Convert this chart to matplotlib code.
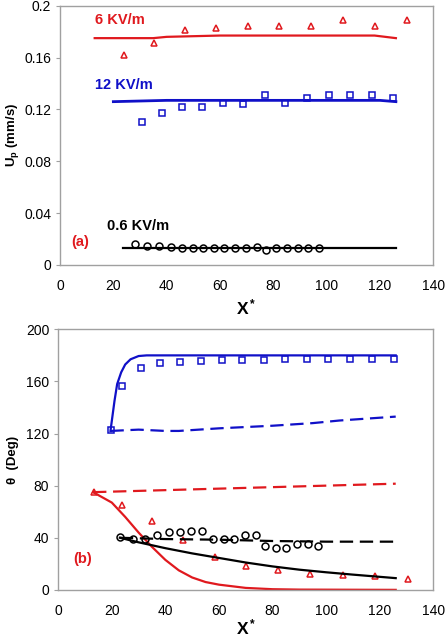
import matplotlib.pyplot as plt

plt.rcParams['font.family'] = ['Liberation Sans', 'DejaVu Sans']
plt.rcParams['mathtext.fontset'] = 'custom'
plt.rcParams['mathtext.rm'] = 'Liberation Sans'
plt.rcParams['mathtext.bf'] = 'Liberation Sans:bold'
plt.rcParams['mathtext.it'] = 'Liberation Sans:italic'

# ---- panel (a): particle velocity ----
a_red_x = [24.0, 35.1, 46.8, 58.5, 70.4, 82.3, 94.0, 106.2, 118.1, 130.1]
a_red_y = [0.162, 0.171, 0.181, 0.183, 0.184, 0.184, 0.184, 0.189, 0.184, 0.189]
a_red_line_x = [13, 20, 35, 40, 60, 80, 100, 118, 122, 126]
a_red_line_y = [0.175, 0.175, 0.175, 0.176, 0.177, 0.177, 0.177, 0.177, 0.176, 0.175]

a_blue_x = [30.9, 38.2, 45.7, 53.2, 61.1, 68.7, 76.9, 84.5, 92.5, 100.8, 108.7, 117.0, 125.1]
a_blue_y = [0.110, 0.117, 0.122, 0.122, 0.125, 0.124, 0.131, 0.125, 0.129, 0.131, 0.131, 0.131, 0.129]
a_blue_line_x = [20, 40, 60, 80, 100, 120, 126]
a_blue_line_y = [0.126, 0.127, 0.127, 0.127, 0.127, 0.127, 0.126]

a_blk_x = [28.2, 32.7, 37.2, 41.7, 45.7, 49.7, 53.7, 57.7, 61.7, 65.7, 69.7, 73.8, 77.1,
           81.1, 85.1, 89.2, 93.2, 97.2]
a_blk_y = [0.016, 0.0146, 0.0148, 0.014, 0.013, 0.0133, 0.013, 0.013, 0.013, 0.013, 0.013,
           0.0136, 0.0113, 0.013, 0.013, 0.013, 0.013, 0.013]
a_blk_line_x = [23.5, 126]
a_blk_line_y = [0.013, 0.013]

# ---- panel (b): angle ----
b_blue_x = [19.6, 23.9, 30.8, 38.0, 45.6, 53.3, 61.0, 68.7, 76.8, 84.7, 92.7, 100.9, 109.0, 117.2, 125.3]
b_blue_y = [122.5, 156.3, 170.3, 174.4, 175.2, 175.7, 176.2, 176.7, 176.7, 177.0, 177.0, 177.0, 177.0, 177.0, 177.0]
b_blue_sol_x = [19.5, 21, 22, 23.5, 25, 27, 30, 33, 60, 90, 126]
b_blue_sol_y = [122, 145, 158, 167, 173, 177, 179.5, 180, 180, 180, 180]
b_blue_dash_x = [19.5, 30, 40, 45, 60, 80, 95, 100, 105, 126]
b_blue_dash_y = [122, 123, 122, 122, 124, 126, 128, 129, 130, 133]

b_red_x = [13.3, 23.9, 35.0, 46.7, 58.4, 70.2, 82.2, 94.0, 106.4, 118.3, 130.4]
b_red_y = [75.2, 65.0, 52.9, 38.4, 25.3, 18.4, 15.3, 12.5, 11.3, 10.5, 8.4]
b_red_sol_x = [13, 20, 25, 30, 35, 40, 45, 50, 55, 60, 70, 80, 90, 126]
b_red_sol_y = [75, 67, 56, 44, 33, 23, 15, 9.5, 6, 4, 1.5, 0.5, 0.2, 0]
b_red_dash_x = [13, 126]
b_red_dash_y = [75, 81.5]

b_blk_x = [22.9, 27.9, 32.5, 36.9, 41.3, 45.5, 49.7, 53.5, 57.7, 61.8, 65.8, 69.7, 73.7,
           77.1, 81.2, 85.1, 89.1, 93.2, 97.1]
b_blk_y = [40.2, 39.4, 39.4, 42.2, 44.5, 44.2, 45.5, 45.3, 39.4, 38.9, 39.1, 42.2, 42.2,
           34.0, 32.2, 32.2, 35.3, 35.3, 34.0]
b_blk_sol_x = [23, 30, 40, 50, 60, 70, 80, 90, 100, 110, 126]
b_blk_sol_y = [40, 36.5, 32, 28, 24.5, 21, 18, 15.5, 13.5, 11.7, 9]
b_blk_dash_x = [23, 40, 60, 80, 100, 126]
b_blk_dash_y = [40, 39, 38.5, 37.5, 37, 37]

RED = '#e0191e'
BLUE = '#1010c8'
GREY = '#a0a0a0'

fig = plt.figure(figsize=(4.48, 6.37), dpi=100)
ax1 = fig.add_axes([0.134, 0.584, 0.833, 0.407])
ax2 = fig.add_axes([0.130, 0.074, 0.837, 0.409])

mk = dict(linestyle='none', markerfacecolor='none', markersize=5, markeredgewidth=1.1)

# panel (a)
ax1.plot(a_red_line_x, a_red_line_y, color=RED, lw=1.6)
ax1.plot(a_red_x, a_red_y, marker='^', color=RED, **mk)
ax1.plot(a_blue_line_x, a_blue_line_y, color=BLUE, lw=2.0)
ax1.plot(a_blue_x, a_blue_y, marker='s', color=BLUE, **mk)
ax1.plot(a_blk_line_x, a_blk_line_y, color='black', lw=1.6)
ax1.plot(a_blk_x, a_blk_y, marker='o', color='black', **mk)

ax1.text(13, 0.189, '6 KV/m', color=RED, fontsize=10.5, fontweight='bold', va='center')
ax1.text(13, 0.139, '12 KV/m', color=BLUE, fontsize=10.5, fontweight='bold', va='center')
ax1.text(17.5, 0.030, '0.6 KV/m', color='black', fontsize=10.5, fontweight='bold', va='center')
ax1.text(4.3, 0.018, '(a)', color=RED, fontsize=10.5, fontweight='bold', va='center')

ax1.set_xlim(0, 140)
ax1.set_ylim(0, 0.2)
ax1.set_xticks(range(0, 141, 20))
ax1.set_yticks([0, 0.04, 0.08, 0.12, 0.16, 0.2])
ax1.set_yticklabels(['0', '0.04', '0.08', '0.12', '0.16', '0.2'])
ax1.set_ylabel(r'$\mathbf{U_p}$ (mm/s)', fontsize=9.5, fontweight='bold')
ax1.yaxis.set_label_coords(-0.105, 0.5)
ax1.set_xlabel(r'$\mathbf{X^*}$', fontsize=12.5, labelpad=3)

# panel (b)
ax2.plot(b_blue_sol_x, b_blue_sol_y, color=BLUE, lw=1.6)
ax2.plot(b_blue_dash_x, b_blue_dash_y, color=BLUE, lw=1.6, dashes=(6, 3))
ax2.plot(b_blue_x, b_blue_y, marker='s', color=BLUE, **mk)
ax2.plot(b_red_sol_x, b_red_sol_y, color=RED, lw=1.6)
ax2.plot(b_red_dash_x, b_red_dash_y, color=RED, lw=1.6, dashes=(6, 3))
ax2.plot(b_red_x, b_red_y, marker='^', color=RED, **mk)
ax2.plot(b_blk_sol_x, b_blk_sol_y, color='black', lw=1.6)
ax2.plot(b_blk_dash_x, b_blk_dash_y, color='black', lw=1.6, dashes=(6, 3))
ax2.plot(b_blk_x, b_blk_y, marker='o', color='black', **mk)

ax2.text(5.5, 24, '(b)', color=RED, fontsize=10.5, fontweight='bold', va='center')

ax2.set_xlim(0, 140)
ax2.set_ylim(0, 200)
ax2.set_xticks(range(0, 141, 20))
ax2.set_yticks(range(0, 201, 40))
ax2.set_ylabel('θ  (Deg)', fontsize=9.5, fontweight='bold')
ax2.yaxis.set_label_coords(-0.105, 0.5)
ax2.set_xlabel(r'$\mathbf{X^*}$', fontsize=12.5, labelpad=0)

for ax in (ax1, ax2):
    for s in ax.spines.values():
        s.set_color(GREY)
        s.set_linewidth(1.0)
    ax.tick_params(axis='both', colors=GREY, labelcolor='black', labelsize=10,
                   length=3, direction='out')
    ax.tick_params(axis='x', length=0, pad=10)

fig.savefig('out.png', dpi=100)
